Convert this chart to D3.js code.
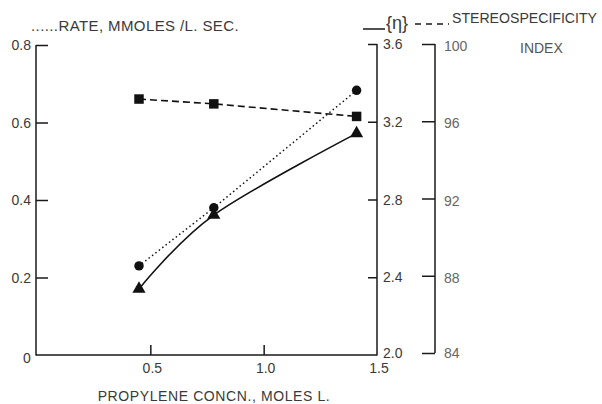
<!DOCTYPE html>
<html>
<head>
<meta charset="utf-8">
<script src="https://cdn.jsdelivr.net/npm/d3@7"></script>
<style>
  html, body { margin: 0; padding: 0; background: #fff; }
  svg { display: block; }
  text { font-family: "Liberation Sans", Arial, sans-serif; fill: #3a3a3a; }
</style>
</head>
<body>
<svg id="chart" width="602" height="404"></svg>
<script>
// ---- data ----
const concentration = [0.45, 0.78, 1.41];           // propylene concn., moles/L
const rate = [0.23, 0.38, 0.683];                  // mmoles/L sec (dotted, circles)
const viscosity = [2.34, 2.72, 3.14];              // [eta] (solid, triangles)
const stereoIndex = [97.15, 96.9, 96.25];          // stereospecificity index (dashed, squares)

const xTicks = [0.5, 1.0, 1.5];
const xTickLabels = ["0.5", "1.0", "1.5"];
const rateTicks = [0.2, 0.4, 0.6, 0.8];
const rateTickLabels = ["0.2", "0.4", "0.6", "0.8"];
const etaTicks = [2.0, 2.4, 2.8, 3.2, 3.6];
const etaTickLabels = ["2.0", "2.4", "2.8", "3.2", "3.6"];
const siTicks = [84, 88, 92, 96, 100];
const siTickLabels = ["84", "88", "92", "96", "100"];

const xTitle = "PROPYLENE CONCN., MOLES L.";
const rateTitle = "......RATE, MMOLES /L. SEC.";
const siTitle = "STEREOSPECIFICITY";
const siTitle2 = "INDEX";
const etaSymbol = "{η}";

// ---- scales ----
const svg = d3.select("#chart");
const x = d3.scaleLinear().domain([0, 1.5]).range([37, 377]);
const yRate = d3.scaleLinear().domain([0, 0.8]).range([355, 45]);
const yEta = d3.scaleLinear().domain([2.0, 3.6]).range([355, 44]);
const ySI = d3.scaleLinear().domain([84, 100]).range([353, 44]);

const axisColor = "#1a1a1a";

// ---- left axis (rate) ----
const gL = svg.append("g").attr("transform", "translate(36,0)");
gL.call(d3.axisRight(yRate).tickValues(rateTicks).tickSize(12).tickFormat(""));
gL.select(".domain").remove();
gL.append("line").attr("x1", 0).attr("x2", 0).attr("y1", yRate(0.8)).attr("y2", yRate(0) + 0.5)
  .attr("stroke", axisColor).attr("stroke-width", 1.5);
gL.selectAll(".tick line").attr("stroke", axisColor).attr("stroke-width", 1.5);
rateTicks.forEach((v, i) => {
  svg.append("text").attr("x", 31).attr("y", yRate(v)).attr("dy", "0.36em")
    .attr("text-anchor", "end").attr("font-size", 14).text(rateTickLabels[i]);
});

// ---- bottom axis ----
const gB = svg.append("g").attr("transform", "translate(0,355)");
gB.call(d3.axisTop(x).tickValues(xTicks.slice(0, 2)).tickSize(10).tickFormat(""));
gB.select(".domain").remove();
gB.append("line").attr("x1", 36).attr("x2", x(1.5)).attr("y1", 0).attr("y2", 0)
  .attr("stroke", axisColor).attr("stroke-width", 1.5);
gB.selectAll(".tick line").attr("stroke", axisColor).attr("stroke-width", 1.5);
xTicks.forEach((v, i) => {
  svg.append("text").attr("x", x(v) + 2).attr("y", 373)
    .attr("text-anchor", "middle").attr("font-size", 14).text(xTickLabels[i]);
});
svg.append("text").attr("x", 27).attr("y", 363).attr("text-anchor", "middle")
  .attr("font-size", 14).text("0");
svg.append("text").attr("x", 214).attr("y", 401).attr("text-anchor", "middle")
  .attr("font-size", 14).attr("letter-spacing", 0.6).text(xTitle);

// ---- eta axis ----
const gE = svg.append("g").attr("transform", `translate(${x(1.5)},0)`);
gE.call(d3.axisLeft(yEta).tickValues(etaTicks.slice(1)).tickSize(9).tickFormat(""));
gE.select(".domain").remove();
gE.append("line").attr("x1", 0).attr("x2", 0).attr("y1", yEta(3.6)).attr("y2", yEta(2.0) + 0.5)
  .attr("stroke", axisColor).attr("stroke-width", 1.5);
gE.selectAll(".tick line").attr("stroke", axisColor).attr("stroke-width", 1.5);
etaTicks.forEach((v, i) => {
  svg.append("text").attr("x", x(1.5) + 6).attr("y", yEta(v) + (i === 0 ? -2 : 0)).attr("dy", "0.36em")
    .attr("font-size", 14).text(etaTickLabels[i]);
});

// ---- stereospecificity axis ----
const gS = svg.append("g").attr("transform", "translate(435,0)");
gS.call(d3.axisLeft(ySI).tickValues(siTicks).tickSize(13).tickFormat(""));
gS.select(".domain").remove();
gS.append("line").attr("x1", 0).attr("x2", 0).attr("y1", ySI(100)).attr("y2", ySI(84))
  .attr("stroke", axisColor).attr("stroke-width", 1.5);
gS.selectAll(".tick line").attr("stroke", axisColor).attr("stroke-width", 1.5);
siTicks.forEach((v, i) => {
  svg.append("text").attr("x", 444).attr("y", ySI(v) + (i === 0 ? 0 : 2)).attr("dy", "0.36em")
    .attr("font-size", 14).style("fill", "#666").text(siTickLabels[i]);
});

// ---- titles / legends ----
svg.append("text").attr("x", 31).attr("y", 31).attr("font-size", 15)
  .attr("letter-spacing", 0.4).text(rateTitle);
svg.append("line").attr("x1", 363).attr("x2", 385).attr("y1", 29).attr("y2", 29)
  .attr("stroke", axisColor).attr("stroke-width", 1.5);
svg.append("text").attr("x", 386).attr("y", 29).attr("font-size", 18).text(etaSymbol);
svg.append("line").attr("x1", 415).attr("x2", 449).attr("y1", 24).attr("y2", 24)
  .attr("stroke", axisColor).attr("stroke-width", 1.5).attr("stroke-dasharray", "6,5");
svg.append("text").attr("x", 452).attr("y", 23).attr("font-size", 14)
  .attr("textLength", 145).attr("lengthAdjust", "spacingAndGlyphs").text(siTitle);
svg.append("text").attr("x", 520).attr("y", 53).attr("font-size", 14)
  .style("fill", "#555").text(siTitle2);

// ---- series ----
const ptsRate = concentration.map((c, i) => [x(c), yRate(rate[i])]);
const ptsEta = concentration.map((c, i) => [x(c), yEta(viscosity[i])]);
const ptsSI = concentration.map((c, i) => [x(c), ySI(stereoIndex[i])]);

svg.append("path").attr("d", d3.line()(ptsSI)).attr("fill", "none")
  .attr("stroke", "#111").attr("stroke-width", 1.6).attr("stroke-dasharray", "7,4");
svg.append("path").attr("d", d3.line()(ptsRate)).attr("fill", "none")
  .attr("stroke", "#111").attr("stroke-width", 1.6).attr("stroke-dasharray", "0.1,4.2")
  .attr("stroke-linecap", "round");
svg.append("path").attr("d", d3.line().curve(d3.curveCardinal.tension(0))(ptsEta)).attr("fill", "none")
  .attr("stroke", "#111").attr("stroke-width", 1.6);

svg.selectAll(".sq").data(ptsSI).join("path").attr("class", "sq")
  .attr("transform", d => `translate(${d[0]},${d[1]})`)
  .attr("d", d3.symbol(d3.symbolSquare, 90)()).attr("fill", "#111");
svg.selectAll(".ci").data(ptsRate).join("path").attr("class", "ci")
  .attr("transform", d => `translate(${d[0]},${d[1]})`)
  .attr("d", d3.symbol(d3.symbolCircle, 70)()).attr("fill", "#111");
svg.selectAll(".tr").data(ptsEta).join("path").attr("class", "tr")
  .attr("transform", d => `translate(${d[0]},${d[1]})`)
  .attr("d", d3.symbol(d3.symbolTriangle, 75)()).attr("fill", "#111");
</script>
</body>
</html>
